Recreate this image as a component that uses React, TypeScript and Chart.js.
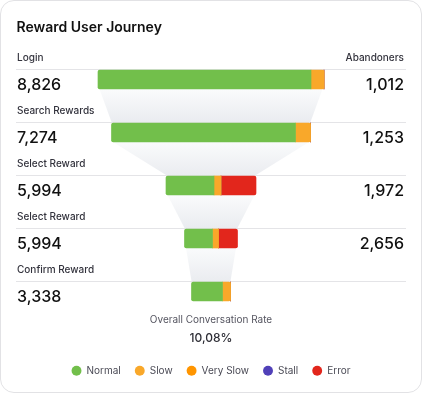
import React, { useEffect, useRef } from "react";
import { Chart, registerables } from "chart.js";

Chart.register(...registerables);

// ---- data ----
const steps = ["Login", "Search Rewards", "Select Reward", "Select Reward", "Confirm Reward"];
const stepCounts = ["8,826", "7,274", "5,994", "5,994", "3,338"];
const abandoners = ["1,012", "1,253", "1,972", "2,656", ""];

// segment widths per step (relative units)
const normalSeg = [213, 184, 48, 28, 31];
const slowSeg = [13, 15, 7, 6, 8];
const verySlowSeg = [0, 0, 0, 0, 0];
const stallSeg = [0, 0, 0, 0, 0];
const errorSeg = [0, 0, 35, 19, 0];

const statusLabels = ["Normal", "Slow", "Very Slow", "Stall", "Error"];
const statusColors = ["#72BF4B", "#F9A82A", "#FF9500", "#5040B8", "#E2261C"];

const chartTitle = "Reward User Journey";
const leftHeader = steps[0];
const rightHeader = "Abandoners";
const rateLabel = "Overall Conversation Rate";
const rateValue = "10,08%";

const X_HALF = 195;
const ROW_PITCH = 53;
const FONT = "Inter, 'Noto Sans', sans-serif";

const segments = [normalSeg, slowSeg, verySlowSeg, stallSeg, errorSeg];
const totals = steps.map((_, i) => segments.reduce((s, seg) => s + seg[i], 0));

function floatingData(k: number) {
  return steps.map((_, i) => {
    let start = -totals[i] / 2;
    for (let j = 0; j < k; j++) start += segments[j][i];
    return [start, start + segments[k][i]];
  });
}

function radiusFor(ds: number, row: number) {
  const nz = segments.map((s, j) => (s[row] > 0 ? j : -1)).filter((j) => j >= 0);
  const first = nz[0] === ds;
  const last = nz[nz.length - 1] === ds;
  const r = 2;
  return {
    topLeft: first ? r : 0,
    bottomLeft: first ? r : 0,
    topRight: last ? r : 0,
    bottomRight: last ? r : 0,
  };
}

const funnelPlugin = {
  id: "funnelBackdrop",
  beforeDatasetsDraw(chart: any) {
    const { ctx, chartArea } = chart;
    const xs = chart.scales.x;
    const bars = chart.getDatasetMeta(0).data;
    ctx.save();
    // separators
    ctx.strokeStyle = "#e4e4e7";
    ctx.lineWidth = 1;
    bars.forEach((bar: any) => {
      const y = Math.round(bar.y - bar.height / 2) - 0.5;
      ctx.beginPath();
      ctx.moveTo(chartArea.left, y);
      ctx.lineTo(chartArea.right, y);
      ctx.stroke();
    });
    // funnel connectors
    for (let i = 0; i < bars.length - 1; i++) {
      const a = bars[i];
      const b = bars[i + 1];
      const y0 = a.y + a.height / 2;
      const y1 = b.y - b.height / 2 - 1;
      const l0 = xs.getPixelForValue(-totals[i] / 2) + 1.5;
      const r0 = xs.getPixelForValue(totals[i] / 2) - 1.5;
      const l1 = xs.getPixelForValue(-totals[i + 1] / 2);
      const r1 = xs.getPixelForValue(totals[i + 1] / 2);
      const g = ctx.createLinearGradient(0, y0, 0, y1);
      g.addColorStop(0, "#fafbfc");
      g.addColorStop(1, "#eaecf0");
      ctx.fillStyle = g;
      ctx.beginPath();
      ctx.moveTo(l0, y0);
      ctx.lineTo(r0, y0);
      ctx.lineTo(r1, y1);
      ctx.lineTo(l1, y1);
      ctx.closePath();
      ctx.fill();
    }
    ctx.restore();
  },
};

function FunnelChart() {
  const ref = useRef<HTMLCanvasElement | null>(null);
  useEffect(() => {
    if (!ref.current) return;
    const chart = new Chart(ref.current, {
      type: "bar",
      data: {
        labels: steps,
        datasets: statusLabels.map((label, k) => ({
          label,
          data: floatingData(k) as any,
          backgroundColor: statusColors[k],
          borderWidth: 0,
          borderSkipped: false,
          borderRadius: (c: any) => radiusFor(k, c.dataIndex),
          barThickness: 19,
          grouped: false,
          clip: false as any,
        })),
      },
      options: {
        indexAxis: "y",
        animation: false,
        responsive: false,
        events: [],
        layout: { padding: { top: 79.5, bottom: 7.3, left: 16, right: 16 } },
        scales: {
          x: { type: "linear", min: -X_HALF, max: X_HALF, display: false },
          y: { type: "category", offset: false, display: false },
        },
        plugins: {
          tooltip: { enabled: false },
          title: {
            display: true,
            text: rateLabel,
            position: "bottom",
            weight: 100,
            color: "#555560",
            font: { family: FONT, size: 10, weight: "normal" },
            padding: { top: 22.5, bottom: 0 },
          },
          subtitle: {
            display: true,
            text: rateValue,
            position: "bottom",
            weight: 200,
            color: "#2e2e36",
            font: { family: FONT, size: 12, weight: "500" },
            padding: { top: 5.3, bottom: 6 },
          },
          legend: {
            display: true,
            position: "bottom",
            labels: {
              usePointStyle: true,
              pointStyle: "circle",
              boxWidth: 10,
              boxHeight: 7,
              padding: 14,
              color: "#4a4a55",
              font: { family: FONT, size: 10 },
            },
          },
        },
      } as any,
      plugins: [funnelPlugin],
    });
    return () => chart.destroy();
  }, []);
  return (
    <canvas
      ref={ref}
      width={422}
      height={393}
      style={{ position: "absolute", left: 0, top: 0, width: 422, height: 393 }}
    />
  );
}

const textBase: React.CSSProperties = {
  position: "absolute",
  fontFamily: FONT,
  lineHeight: 1,
  whiteSpace: "nowrap",
};

export default function App() {
  return (
    <div
      style={{
        position: "absolute",
        left: 0,
        top: 0,
        width: 422,
        height: 393,
        background: "#ffffff",
        overflow: "hidden",
      }}
    >
      <div
        style={{
          position: "absolute",
          inset: 0,
          border: "1px solid #e2e2e5",
          borderRadius: 14,
          boxSizing: "border-box",
          background: "#ffffff",
        }}
      />
      <FunnelChart />
      <div style={{ ...textBase, left: 16.5, top: 20.4, fontSize: 14, fontWeight: 600, color: "#111" }}>
        {chartTitle}
      </div>
      <div style={{ ...textBase, right: 18, top: 52.1, fontSize: 10, fontWeight: 500, color: "#33333d" }}>
        {rightHeader}
      </div>
      {steps.map((s, i) => (
        <React.Fragment key={i}>
          <div
            style={{
              ...textBase,
              left: 17,
              top: 52.1 + i * ROW_PITCH,
              fontSize: 10,
              fontWeight: 500,
              color: "#33333d",
            }}
          >
            {i === 0 ? leftHeader : s}
          </div>
          <div
            style={{
              ...textBase,
              left: 17,
              top: 76.2 + i * ROW_PITCH,
              fontSize: 16,
              fontWeight: 500,
              color: "#111",
            }}
          >
            {stepCounts[i]}
          </div>
          {abandoners[i] ? (
            <div
              style={{
                ...textBase,
                right: 18,
                top: 76.2 + i * ROW_PITCH,
                fontSize: 16,
                fontWeight: 500,
                color: "#111",
              }}
            >
              {abandoners[i]}
            </div>
          ) : null}
        </React.Fragment>
      ))}
    </div>
  );
}
